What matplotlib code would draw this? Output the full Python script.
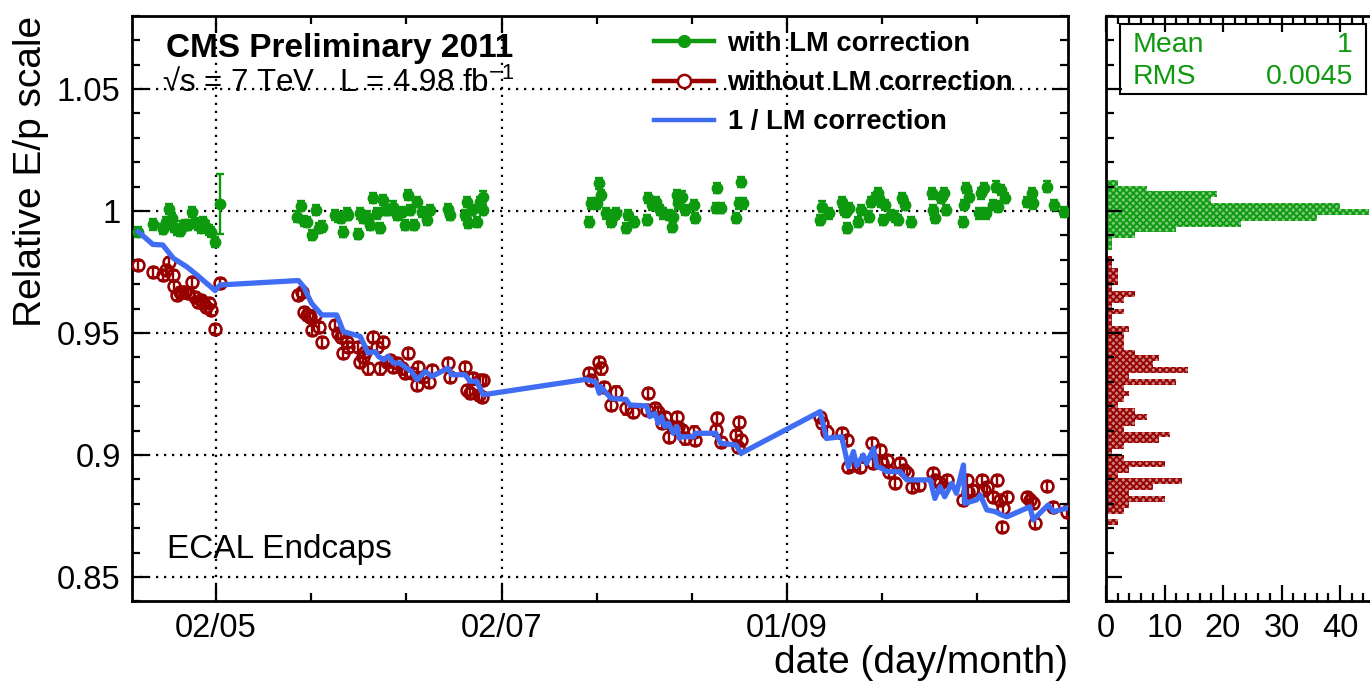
import numpy as np
import matplotlib
matplotlib.use("Agg")
import matplotlib.pyplot as plt
import matplotlib.dates as mdates
from matplotlib.lines import Line2D
from matplotlib.patches import Rectangle
from matplotlib.ticker import MultipleLocator, FixedLocator, NullFormatter

plt.rcParams["font.family"] = ["Liberation Sans", "DejaVu Sans"]
plt.rcParams["mathtext.fontset"] = "custom"
plt.rcParams["mathtext.rm"] = "Liberation Sans"
plt.rcParams["mathtext.it"] = "Liberation Sans:italic"
plt.rcParams["mathtext.bf"] = "Liberation Sans:bold"
plt.rcParams["hatch.linewidth"] = 1.3

# days are day-of-year 2011 (fractional)
green_day = [105.4, 108.5, 110.6, 111.3, 112.0, 112.5, 113.1, 113.6, 114.2, 114.7,
             115.4, 116.1, 116.8, 117.5, 118.2, 118.7, 119.3, 119.9, 120.4, 120.9, 121.8,
             139.2, 140.1, 140.8, 141.4, 142.4, 143.4, 143.9, 144.6, 147.4, 148.1,
             148.6, 149.2, 149.9, 150.3, 152.4, 152.8, 153.5, 154.2, 154.8, 155.6,
             156.3, 157.0, 157.6, 158.1, 158.8, 159.9, 160.6, 161.7, 162.4, 163.1,
             163.5, 164.3, 164.9, 166.0, 167.0, 167.7, 171.6, 172.0, 175.2, 175.6,
             175.9, 176.6, 177.7, 178.1, 178.4, 179.0, 179.1,
             201.7, 202.1, 203.5, 203.9, 204.2, 205.3, 206.4, 207.1, 207.5, 209.6,
             210.0, 211.4, 214.0, 214.3, 215.1, 216.1, 216.9, 217.6, 218.7, 219.4,
             219.7, 220.5, 220.8, 221.5, 222.3, 224.1, 224.4, 228.8, 229.1, 229.8,
             233.1, 233.8, 234.2, 234.5,
             251.1, 251.5, 253.0, 255.8, 256.2, 256.6, 256.9, 257.3, 259.1, 259.8,
             261.6, 262.0, 262.7, 263.4, 264.1, 264.5, 264.9, 266.3, 267.0, 267.7,
             268.5, 269.2, 270.6, 275.0, 275.3, 275.7, 276.8, 277.5, 277.9, 281.5,
             281.8, 282.2, 282.9, 285.1, 285.5, 286.2, 286.5, 288.0, 288.7, 289.1,
             289.8, 290.5, 295.2, 296.3, 296.6, 299.5, 301.0, 303.1]
green_val = [0.9915, 0.9945, 0.9926, 0.9956, 1.0007, 0.9970, 0.9936, 0.9922, 0.9918, 0.9936,
             0.9943, 0.9943, 0.9997, 0.9950, 0.9943, 0.9929, 0.9956, 0.9936, 0.9922, 0.9915, 0.9874,
             0.9977, 1.0020, 0.9960, 0.9956, 0.9902, 1.0004, 0.9929, 0.9936, 0.9984, 0.9974,
             0.9970, 0.9915, 0.9990, 0.9984, 0.9906, 0.9990, 0.9970, 0.9977, 0.9943, 1.0052,
             0.9990, 0.9929, 1.0045, 1.0004, 1.0004, 1.0018, 0.9984, 0.9997, 0.9943, 1.0066,
             1.0004, 0.9943, 1.0038, 0.9997, 0.9963, 1.0004, 1.0007, 0.9984, 0.9984, 1.0038,
             0.9950, 1.0004, 0.9956, 1.0018, 1.0038, 1.0059, 1.0004,
             0.9956, 1.0031, 1.0031, 1.0113, 1.0066, 0.9990, 0.9956, 0.9984, 0.9990, 0.9929,
             0.9984, 0.9956, 0.9963, 1.0052, 1.0025, 1.0038, 1.0004, 0.9990, 0.9984, 0.9936,
             0.9977, 1.0066, 1.0031, 1.0059, 1.0004, 1.0025, 0.9970, 1.0011, 1.0093, 1.0011,
             0.9970, 1.0031, 1.0120, 1.0031,
             0.9963, 1.0018, 0.9990, 1.0038, 1.0004, 0.9997, 0.9929, 1.0011, 0.9956, 1.0004,
             0.9977, 1.0038, 1.0052, 1.0072, 1.0038, 0.9963, 1.0025, 0.9984, 0.9977, 0.9963,
             1.0052, 1.0025, 0.9956, 1.0072, 1.0004, 0.9970, 1.0052, 1.0072, 1.0004, 0.9956,
             1.0025, 1.0093, 1.0059, 0.9990, 1.0072, 1.0093, 0.9990, 1.0025, 1.0100, 1.0018,
             1.0086, 1.0052, 1.0038, 1.0072, 1.0031, 1.0100, 1.0025, 0.9997]
green_err = 0.0021
# first May run has a large uncertainty
green_wide_day = [122.9]
green_wide_val = [1.0027]
green_wide_err = [0.0123]

red_day = [105.4, 108.5, 110.6, 111.3, 112.0, 112.7, 113.1, 113.6, 114.2, 114.7,
           115.4, 116.1, 116.8, 117.5, 118.2, 118.7, 119.3, 119.9, 120.4, 120.9,
           121.8, 122.9,
           139.6, 140.3, 140.8, 141.4, 142.1, 142.4, 143.2, 143.9, 144.6, 147.4,
           148.1, 148.6, 149.2, 149.9, 150.3, 152.4, 152.8, 153.5, 153.8, 154.5,
           155.6, 156.3, 157.0, 157.6, 158.5, 159.2, 159.9, 160.6, 161.7, 162.4,
           163.1, 163.8, 164.9, 165.2, 166.3, 167.4, 168.1, 171.6, 172.0, 175.2,
           175.6, 176.3, 177.0, 178.1, 178.4, 178.8, 179.1,
           201.7, 202.1, 203.9, 204.2, 205.0, 206.4, 207.5, 209.6, 211.1, 214.0,
           214.3, 215.8, 216.5, 217.2, 217.9, 218.7, 219.7, 220.5, 220.8, 221.5,
           222.3, 224.1, 224.4, 228.8, 229.1, 229.8, 233.1, 233.5, 233.8, 234.2,
           251.1, 251.4, 252.5, 255.7, 256.8, 257.1, 258.2, 259.6, 262.1, 262.4,
           263.9, 264.2, 265.3, 265.7, 267.1, 268.2, 268.9, 269.6, 270.7, 272.1,
           275.3, 275.6, 276.7, 277.4, 278.1, 281.7, 282.4, 282.7, 283.5, 285.6,
           286.0, 286.7, 288.1, 288.8, 289.5, 289.9, 290.2, 291.0, 295.2, 295.9,
           296.6, 297.0, 299.5, 300.9, 303.8]
red_val = [0.9779, 0.9751, 0.9738, 0.9758, 0.9792, 0.9738, 0.9693, 0.9656, 0.9669, 0.9669,
           0.9669, 0.9663, 0.9710, 0.9649, 0.9628, 0.9635, 0.9622, 0.9608, 0.9622, 0.9594,
           0.9516, 0.9704,
           0.9656, 0.9669, 0.9587, 0.9574, 0.9567, 0.9512, 0.9574, 0.9526, 0.9464, 0.9533,
           0.9499, 0.9485, 0.9417, 0.9464, 0.9444, 0.9444, 0.9382, 0.9403, 0.9423, 0.9355,
           0.9485, 0.9444, 0.9355, 0.9464, 0.9382, 0.9389, 0.9362, 0.9376, 0.9355, 0.9335,
           0.9417, 0.9335, 0.9287, 0.9362, 0.9321, 0.9300, 0.9348, 0.9376, 0.9321, 0.9362,
           0.9266, 0.9253, 0.9314, 0.9246, 0.9307, 0.9239, 0.9307,
           0.9335, 0.9307, 0.9382, 0.9355, 0.9280, 0.9205, 0.9260, 0.9191, 0.9177, 0.9184,
           0.9253, 0.9191, 0.9177, 0.9130, 0.9157, 0.9075, 0.9116, 0.9157, 0.9116, 0.9102,
           0.9068, 0.9096, 0.9061, 0.9102, 0.9150, 0.9054, 0.9082, 0.9034, 0.9136, 0.9061,
           0.9157, 0.9130, 0.9096, 0.9089, 0.9061, 0.8952, 0.8959, 0.8952, 0.9048, 0.8966,
           0.9020, 0.8966, 0.8980, 0.8932, 0.8884, 0.8966, 0.8939, 0.8925, 0.8870, 0.8877,
           0.8925, 0.8898, 0.8884, 0.8870, 0.8898, 0.8816, 0.8898, 0.8850, 0.8857, 0.8898,
           0.8857, 0.8870, 0.8829, 0.8898, 0.8816, 0.8706, 0.8781, 0.8829, 0.8829, 0.8816,
           0.8802, 0.8720, 0.8873, 0.8788, 0.8768]
red_err = 0.0021

lm_day = [105.4, 108.5, 110.6, 112.9, 115.7, 117.9, 121.8, 122.9,
          139.6, 140.7, 142.4, 144.6, 147.8, 149.2, 152.8, 154.5, 156.0, 156.7,
          157.8, 158.8, 159.9, 161.3, 162.7, 163.8, 164.9, 166.7, 168.1, 171.6,
          172.3, 175.2, 176.3, 177.7, 179.1,
          201.0, 203.1, 203.9, 204.2, 206.4, 209.6, 210.4, 214.0, 214.7, 215.8,
          216.5, 217.2, 217.9, 218.7, 219.7, 220.5, 221.0, 221.5, 224.1, 224.4,
          228.8, 229.8, 233.1, 234.2,
          251.1, 252.4, 255.7, 257.1, 258.2, 258.9, 260.3, 261.0, 262.5, 263.2,
          264.2, 265.3, 268.2, 269.6, 272.4, 274.6, 275.6, 276.7, 277.7, 279.2,
          280.2, 281.7, 282.0, 284.5, 285.3, 286.7, 288.5, 289.9, 291.0, 295.9,
          296.6, 298.0, 299.8, 300.9, 303.8]
lm_val = [0.9915, 0.9863, 0.9861, 0.9806, 0.9772, 0.9738, 0.9674, 0.9697,
          0.9715, 0.9690, 0.9622, 0.9574, 0.9574, 0.9506, 0.9486, 0.9418, 0.9424, 0.9404,
          0.9390, 0.9404, 0.9377, 0.9377, 0.9356, 0.9342, 0.9308, 0.9342, 0.9322, 0.9356,
          0.9329, 0.9329, 0.9302, 0.9302, 0.9247,
          0.9310, 0.9300, 0.9253, 0.9280, 0.9232, 0.9228, 0.9205, 0.9201, 0.9157, 0.9171,
          0.9130, 0.9157, 0.9116, 0.9130, 0.9089, 0.9116, 0.9068, 0.9075, 0.9075, 0.9089,
          0.9089, 0.9048, 0.9041, 0.9007,
          0.9178, 0.9068, 0.9075, 0.8952, 0.9014, 0.8955, 0.9000, 0.8966, 0.9027, 0.8952,
          0.8946, 0.8932, 0.8932, 0.8898, 0.8898, 0.8898, 0.8822, 0.8870, 0.8829, 0.8884,
          0.8843, 0.8959, 0.8802, 0.8816, 0.8836, 0.8775, 0.8768, 0.8754, 0.8747, 0.8788,
          0.8734, 0.8761, 0.8795, 0.8768, 0.8782]

# projections: 100 bins from 0.84 to 1.08
hist_lo, hist_hi, hist_nbins = 0.84, 1.08, 100
green_first_bin = 60
green_counts = [1, 1, 5, 12, 23, 36, 45, 40, 18, 19, 7, 2]
red_first_bin = 13
red_counts = [2, 0, 3, 4, 10, 4, 8, 13, 2, 4, 10, 3, 1, 3, 9, 11, 3, 5, 7, 5,
              2, 3, 4, 3, 12, 4, 14, 8, 9, 5, 3, 3, 3, 4, 1, 1, 3, 1, 3, 5,
              1, 2, 2, 2, 1, 1]
stat_mean = "1"
stat_rms = "0.0045"

GREEN = "#0e9a0e"
RED = "#990000"
BLUE = "#3f6ef4"


def to_date(doy):
    minutes = np.round((np.asarray(doy, dtype=float) - 1) * 1440).astype("int64")
    return np.datetime64("2011-01-01T00:00") + minutes.astype("timedelta64[m]")


W, H = 1370, 683
fig = plt.figure(figsize=(W / 100, H / 100), dpi=100)
top_px, bot_px = 15.8, 601.4
ax = fig.add_axes([131.8 / W, 1 - bot_px / H, (1067.8 - 131.8) / W, (bot_px - top_px) / H])
# histogram panel runs past the right edge of the canvas
axh = fig.add_axes([1106 / W, 1 - bot_px / H, 48 * 5.85 / W, (bot_px - top_px) / H])

# time series
ax.errorbar(to_date(green_day), green_val, yerr=green_err, fmt="o", color=GREEN,
            ms=7.5, elinewidth=1.7, capsize=3.2, capthick=1.7, zorder=3)
ax.errorbar(to_date(green_wide_day), green_wide_val, yerr=green_wide_err, fmt="o",
            color=GREEN, ms=7.5, elinewidth=1.7, capsize=3.2, capthick=1.7, zorder=3)
ax.errorbar(to_date(red_day), red_val, yerr=red_err, fmt="o", color=RED, mfc="none",
            mec=RED, mew=1.9, ms=8.5, elinewidth=1.7, capsize=3.2, capthick=1.7, zorder=3)
ax.plot(to_date(lm_day), lm_val, color=BLUE, lw=3.8, zorder=4)

ax.set_ylim(hist_lo, hist_hi)
ax.set_xlim(mdates.date2num(to_date(104)), mdates.date2num(to_date(304)))
major_days = [122, 183, 244]
minor_days = 122 + np.arange(-1, 10) * 61 / 3
ax.xaxis.set_major_locator(FixedLocator(mdates.date2num(to_date(major_days))))
ax.xaxis.set_minor_locator(FixedLocator(mdates.date2num(to_date(minor_days))))
ax.xaxis.set_major_formatter(mdates.DateFormatter("%d/%m"))
ax.yaxis.set_major_locator(MultipleLocator(0.05))
ax.yaxis.set_minor_locator(MultipleLocator(0.01))
ax.yaxis.set_major_formatter(matplotlib.ticker.FuncFormatter(lambda v, p: f"{v:g}"))
ax.grid(True, which="major", color="black", lw=1.6, ls=(0, (1, 2.6)))
ax.set_axisbelow(True)

for a in (ax, axh):
    a.tick_params(which="both", direction="in", top=True, right=True, width=1.6,
                  labelsize=23.5, color="black")
    a.tick_params(which="major", length=11.5)
    a.tick_params(which="minor", length=6)
    for s in a.spines.values():
        s.set_linewidth(2)
ax.tick_params(axis="x", pad=8)
ax.tick_params(axis="y", pad=8)

ax.set_ylabel("Relative E/p scale", fontsize=28, loc="top")
ax.yaxis.set_label_coords(-0.088, 1.0)
ax.set_xlabel("date (day/month)", fontsize=28, loc="right")
ax.xaxis.set_label_coords(1.0, -0.074)

fig.text(166 / W, 1 - 56.7 / H, "CMS Preliminary 2011", fontsize=24,
         fontweight="bold", va="baseline")
fig.text(162 / W, 1 - 91.7 / H, "√s = 7 TeV   L = 4.98 fb$^{-1}$", fontsize=22.5,
         va="baseline")
fig.text(167 / W, 1 - 558 / H, "ECAL Endcaps", fontsize=24, va="baseline")

handles = [
    Line2D([], [], color=GREEN, lw=3.2, marker="o", ms=8.5),
    Line2D([], [], color=RED, lw=3.2, marker="o", ms=9.5, mfc="white", mew=1.8),
    Line2D([], [], color=BLUE, lw=3.2),
]
labels = ["with LM correction", "without LM correction", "1 / LM correction"]
ax.legend(handles, labels, loc="upper left", bbox_to_anchor=(654 / W, 1 - 31 / H),
          bbox_transform=fig.transFigure, frameon=False, borderpad=0, borderaxespad=0,
          handlelength=2.2, handletextpad=0.5, labelspacing=0.48,
          prop={"weight": "bold", "size": 19.6})

# projection histograms
edges = np.linspace(hist_lo, hist_hi, hist_nbins + 1)
g_edges = edges[green_first_bin:green_first_bin + len(green_counts) + 1]
r_edges = edges[red_first_bin:red_first_bin + len(red_counts) + 1]
axh.stairs(green_counts, g_edges, orientation="horizontal", fill=True,
           facecolor="#7cc97c", edgecolor=GREEN, hatch="xxxxx", lw=0)
axh.stairs(red_counts, r_edges, orientation="horizontal", fill=True,
           facecolor="#c98080", edgecolor=RED, hatch="xxxxx", lw=0)
axh.set_ylim(hist_lo, hist_hi)
axh.set_xlim(0, 48)
axh.xaxis.set_major_locator(MultipleLocator(10))
axh.xaxis.set_minor_locator(MultipleLocator(2))
axh.yaxis.set_major_locator(MultipleLocator(0.05))
axh.yaxis.set_minor_locator(MultipleLocator(0.01))
axh.yaxis.set_major_formatter(NullFormatter())
axh.tick_params(axis="x", pad=8)

# statistics box
fig.add_artist(Rectangle((1120 / W, 1 - 94 / H), (1366 - 1120) / W, 70 / H,
                         transform=fig.transFigure, fill=False, lw=1.5, ec="black"))
fig.text(1133 / W, 1 - 45 / H, "Mean", color=GREEN, fontsize=20.5, va="center")
fig.text(1353 / W, 1 - 45 / H, stat_mean, color=GREEN, fontsize=20.5, va="center", ha="right")
fig.text(1133 / W, 1 - 77 / H, "RMS", color=GREEN, fontsize=20.5, va="center")
fig.text(1353 / W, 1 - 77 / H, stat_rms, color=GREEN, fontsize=20.5, va="center", ha="right")

fig.savefig("out.png", dpi=100)
